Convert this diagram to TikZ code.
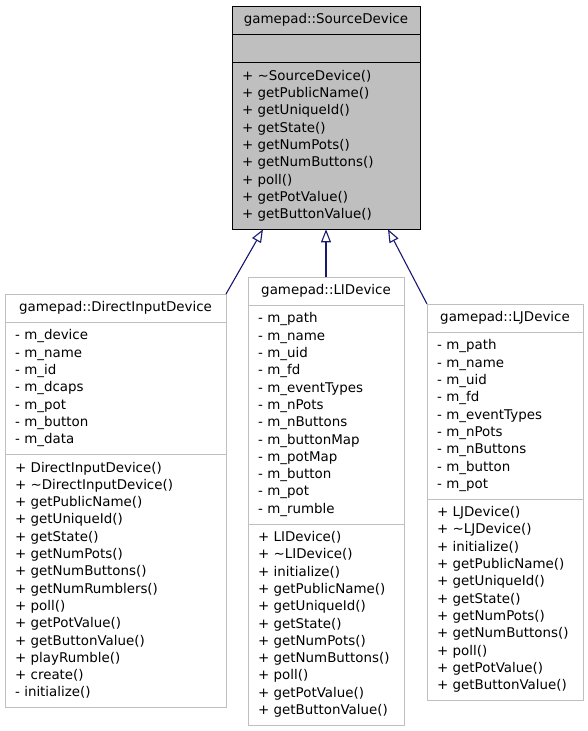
\documentclass[tikz,border=0pt]{standalone}
\usepackage{fontspec}
\setmainfont{DejaVu Sans}
\usetikzlibrary{positioning,arrows.meta,calc}
\definecolor{grey75}{RGB}{191,191,191}
\definecolor{edgeblue}{RGB}{25,25,112}

\begin{document}
\begin{tikzpicture}[x=1pt,y=-1pt,
  box/.style={draw=grey75, fill=white, outer sep=0pt, inner xsep=10pt, inner ysep=5.5pt,
    font=\fontsize{13.4}{17.3}\selectfont, execute at begin node=\strut, execute at end node=\strut},
  head/.style={box, align=center, text width=#1},
  part/.style={box, align=left, text width=#1},
  base/.style={draw=black, fill=grey75},
  inherit/.style={edgeblue, line width=1.1pt, {Triangle[length=13pt,width=10pt,fill=white]}-}]
\useasboundingbox (0,0) rectangle (587,731);

% base class
\node[head=168pt, base, anchor=north west] (src) at (232,6) {gamepad::SourceDevice};
\node[part=168pt, base, below=0pt of src] (srcattr) {};
\node[part=168pt, base, below=0pt of srcattr] (srcops) {+ \textasciitilde SourceDevice()\\+ getPublicName()\\+ getUniqueId()\\+ getState()\\+ getNumPots()\\+ getNumButtons()\\+ poll()\\+ getPotValue()\\+ getButtonValue()};

% derived classes
\node[head=201pt, anchor=north west] (dit) at (5,294) {gamepad::DirectInputDevice};
\node[part=201pt, below=0pt of dit] (ditattr) {- m\_device\\- m\_name\\- m\_id\\- m\_dcaps\\- m\_pot\\- m\_button\\- m\_data};
\node[part=201pt, below=0pt of ditattr] (ditops) {+ DirectInputDevice()\\+ \textasciitilde DirectInputDevice()\\+ getPublicName()\\+ getUniqueId()\\+ getState()\\+ getNumPots()\\+ getNumButtons()\\+ getNumRumblers()\\+ poll()\\+ getPotValue()\\+ getButtonValue()\\+ playRumble()\\+ create()\\- initialize()};

\node[head=136pt, anchor=north west] (lid) at (248,277) {gamepad::LIDevice};
\node[part=136pt, below=0pt of lid] (lidattr) {- m\_path\\- m\_name\\- m\_uid\\- m\_fd\\- m\_eventTypes\\- m\_nPots\\- m\_nButtons\\- m\_buttonMap\\- m\_potMap\\- m\_button\\- m\_pot\\- m\_rumble};
\node[part=136pt, below=0pt of lidattr] (lidops) {+ LIDevice()\\+ \textasciitilde LIDevice()\\+ initialize()\\+ getPublicName()\\+ getUniqueId()\\+ getState()\\+ getNumPots()\\+ getNumButtons()\\+ poll()\\+ getPotValue()\\+ getButtonValue()};

\node[head=136pt, anchor=north west] (ljd) at (427,304) {gamepad::LJDevice};
\node[part=136pt, below=0pt of ljd] (ljdattr) {- m\_path\\- m\_name\\- m\_uid\\- m\_fd\\- m\_eventTypes\\- m\_nPots\\- m\_nButtons\\- m\_button\\- m\_pot};
\node[part=136pt, below=0pt of ljdattr] (ljdops) {+ LJDevice()\\+ \textasciitilde LJDevice()\\+ initialize()\\+ getPublicName()\\+ getUniqueId()\\+ getState()\\+ getNumPots()\\+ getNumButtons()\\+ poll()\\+ getPotValue()\\+ getButtonValue()};

% inheritance
\draw[inherit] ([xshift=31pt]srcops.south west) -- (dit.north east);
\draw[inherit] (srcops.south) -- (lid.north);
\draw[inherit] ([xshift=-32pt]srcops.south east) -- (ljd.north west);
\end{tikzpicture}
\end{document}
